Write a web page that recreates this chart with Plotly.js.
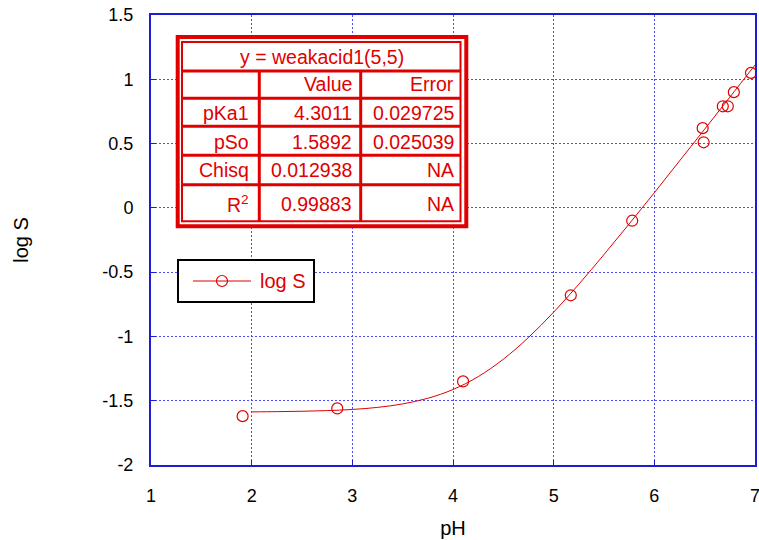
<!DOCTYPE html>
<html>
<head>
<meta charset="utf-8">
<script src="https://cdn.plot.ly/plotly-3.0.1.min.js"></script>
<style>html,body{margin:0;padding:0;background:#fff;}#chart{width:759px;height:540px;}</style>
</head>
<body>
<div id="chart"></div>
<script>
// ---- data ----
const measuredPH   = [1.91, 2.85, 4.10, 5.17, 5.78, 6.48, 6.49, 6.68, 6.73, 6.79, 6.96];
const measuredLogS = [-1.62, -1.56, -1.35, -0.68, -0.10, 0.62, 0.51, 0.79, 0.79, 0.90, 1.05];

const fitPH   = [2.0, 2.25, 2.5, 2.75, 3.0, 3.25, 3.5, 3.75, 4.0, 4.25, 4.5, 4.75, 5.0, 5.25, 5.5, 5.75, 6.0, 6.25, 6.5, 6.75, 7.0];
const fitLogS = [-1.587, -1.585, -1.582, -1.577, -1.568, -1.552, -1.525, -1.481, -1.413, -1.313, -1.177, -1.008, -0.811, -0.594, -0.363, -0.125, 0.118, 0.365, 0.612, 0.861, 1.111];

const tableTitle = 'y = weakacid1(5,5)';
const colHeaders = ['', 'Value', 'Error'];
const rowNames   = ['pKa1', 'pSo', 'Chisq', 'R<sup>2</sup>'];
const rowValues  = ['4.3011', '1.5892', '0.012938', '0.99883'];
const rowErrors  = ['0.029725', '0.025039', 'NA', 'NA'];

const xTicks = [1, 2, 3, 4, 5, 6, 7];
const yTicks = [-2, -1.5, -1, -0.5, 0, 0.5, 1, 1.5];
const legendLabel = 'log S';

// ---- styling ----
const RED = '#e00000';
const FONT = 'Liberation Sans, Arial, sans-serif';
const M = {l: 151, r: 4, t: 15, b: 75};
const W = 759 - M.l - M.r, H = 540 - M.t - M.b;
const px = x => (x - M.l) / W;            // pixel -> paper x
const py = y => (540 - M.b - y) / H;      // pixel -> paper y

const shapes = [];
const annotations = [];
function rect(x0, y0, x1, y1, color, width, fill) {
  shapes.push({type: 'rect', xref: 'paper', yref: 'paper', x0: px(x0), x1: px(x1), y0: py(y0), y1: py(y1),
    line: {color: color, width: width}, fillcolor: fill || 'rgba(0,0,0,0)', layer: 'above'});
}
function line(x0, y0, x1, y1, color, width) {
  shapes.push({type: 'line', xref: 'paper', yref: 'paper', x0: px(x0), x1: px(x1), y0: py(y0), y1: py(y1),
    line: {color: color, width: width}, layer: 'above'});
}
function text(t, x, y, anchor, size, color) {
  annotations.push({text: t, xref: 'paper', yref: 'paper', x: px(x), y: py(y), xanchor: anchor, yanchor: 'middle',
    showarrow: false, font: {family: FONT, size: size, color: color}});
}

// table
rect(177.7, 37, 466.3, 226.3, RED, 4, '#ffffff');
rect(182, 42, 460.5, 221.3, RED, 2);
const rowLines = [71, 98.3, 126.3, 155.3, 184.7];
rowLines.forEach(y => line(182, y, 460.5, y, RED, 3));
const colLines = [259.3, 360.7];
colLines.forEach(x => line(x, 71, x, 221.3, RED, 3));
text(tableTitle, 322, 57, 'center', 19.5, RED);
const colRight = [251, 354, 456];
const rowY = [84, 113, 141.5, 170, 204];
colHeaders.forEach((h, i) => { if (h) text(h, colRight[i], rowY[0], 'right', 19.5, RED); });
rowNames.forEach((n, r) => {
  text(n, colRight[0], rowY[r + 1], 'right', 19.5, RED);
  text(rowValues[r], colRight[1], rowY[r + 1], 'right', 19.5, RED);
  text(rowErrors[r], colRight[2], rowY[r + 1], 'right', 19.5, RED);
});

// legend box
rect(178, 260, 314, 302, '#000000', 2, '#ffffff');
line(193, 281, 251, 281, RED, 1);
shapes.push({type: 'circle', xref: 'paper', yref: 'paper', x0: px(216.5), x1: px(227.5), y0: py(275.5), y1: py(286.5),
  line: {color: RED, width: 1.2}, fillcolor: 'rgba(0,0,0,0)', layer: 'above'});
text(legendLabel, 258, 281, 'left', 20, RED);

const traces = [
  {x: fitPH, y: fitLogS, type: 'scatter', mode: 'lines', line: {color: RED, width: 1, shape: 'spline'},
   showlegend: false, hoverinfo: 'skip'},
  {x: measuredPH, y: measuredLogS, type: 'scatter', mode: 'markers', name: legendLabel,
   marker: {symbol: 'circle-open', size: 11, color: RED, line: {width: 1.2, color: RED}}, showlegend: false}
];

const axisCommon = {
  showgrid: true, gridcolor: '#4b4bff', gridwidth: 1, griddash: '2px,2px',
  showline: true, linecolor: '#1c1cd8', linewidth: 2, mirror: true,
  ticks: 'inside', ticklen: 5, tickcolor: '#1c1cd8', tickwidth: 1,
  zeroline: false, tickfont: {family: FONT, size: 18, color: '#000'},
  ticklabeloverflow: 'allow'
};

const layout = {
  width: 759, height: 540, margin: M,
  paper_bgcolor: '#ffffff', plot_bgcolor: '#ffffff',
  showlegend: false,
  xaxis: Object.assign({}, axisCommon, {
    range: [1, 7], tickvals: xTicks, ticktext: xTicks.map(String), ticklabelstandoff: 13,
    title: {text: 'pH', font: {family: FONT, size: 20, color: '#000'}, standoff: 16}
  }),
  yaxis: Object.assign({}, axisCommon, {
    range: [-2, 1.5], tickvals: yTicks, ticktext: yTicks.map(String), ticklabelstandoff: 12,
    title: {text: 'log S', font: {family: FONT, size: 20, color: '#000'}, standoff: 68}
  }),
  shapes: shapes, annotations: annotations
};

Plotly.newPlot('chart', traces, layout, {displayModeBar: false, staticPlot: true});
</script>
</body>
</html>
